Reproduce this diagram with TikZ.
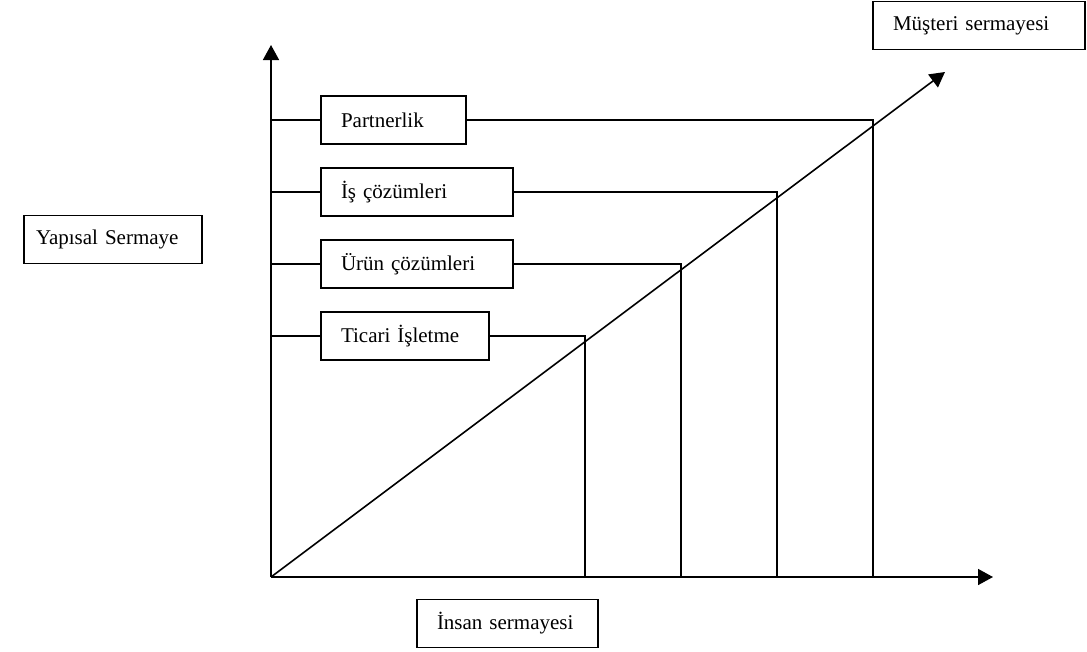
\documentclass[tikz,border=0pt]{standalone}
\usepackage{fontspec}
\setmainfont{Liberation Serif}
\usetikzlibrary{arrows.meta}
\begin{document}
\begin{tikzpicture}[x=1pt,y=-1pt,
  every node/.style={font=\fontsize{21}{25}\selectfont},
  lbox/.style={draw, line width=1.6pt, minimum height=48pt, inner xsep=20pt, inner ysep=0pt, align=left},
  ln/.style={line width=1.6pt},
  arr/.style={line width=1.6pt, -{Triangle[length=15pt,width=16pt]}}]
\useasboundingbox (0,0) rectangle (1087,651);
% axes
\coordinate (o) at (271,577);
\coordinate (ytip) at (271,45);
\coordinate (xtip) at (993,577);
\coordinate (dtip) at (945,72);
\draw[arr] (o) -- (ytip);
\draw[arr] (o) -- (xtip);
\draw[arr] (o) -- (dtip);
% boxes
\node[lbox, text width=105pt] (p) at (393.5,120) {Partnerlik};
\node[lbox, text width=152pt] (i) at (417,192) {İş çözümleri};
\node[lbox, text width=152pt] (u) at (417,264) {Ürün çözümleri};
\node[lbox, text width=128pt] (t) at (405,336) {Ticari İşletme};
\node[lbox, text width=172pt] (m) at (979,25.5) {Müşteri sermayesi};
\node[lbox, text width=154pt, inner xsep=12pt] (y) at (113,239.5) {Yapısal Sermaye};
\node[lbox, text width=141pt] (h) at (507.5,623.5) {İnsan sermayesi};
% corners
\coordinate (cp) at (873,120);
\coordinate (ci) at (777,192);
\coordinate (cu) at (681,264);
\coordinate (ct) at (585,336);
% ticks from y axis
\draw[ln] (o |- p.west) -- (p.west);
\draw[ln] (o |- i.west) -- (i.west);
\draw[ln] (o |- u.west) -- (u.west);
\draw[ln] (o |- t.west) -- (t.west);
% lines to x axis
\draw[ln] (p.east) -- (cp) -- (cp |- o);
\draw[ln] (i.east) -- (ci) -- (ci |- o);
\draw[ln] (u.east) -- (cu) -- (cu |- o);
\draw[ln] (t.east) -- (ct) -- (ct |- o);
\end{tikzpicture}
\end{document}
